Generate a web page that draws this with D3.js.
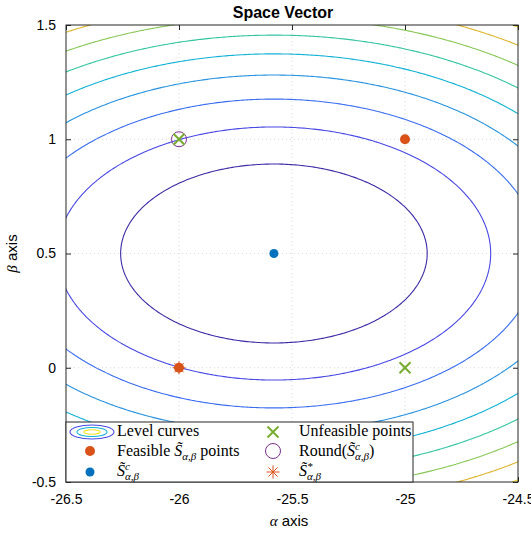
<!DOCTYPE html>
<html>
<head>
<meta charset="utf-8">
<script src="https://cdn.jsdelivr.net/npm/d3@7"></script>
<style>
  body { margin: 0; background: #fff; }
  text { font-family: "Liberation Sans", Arial, sans-serif; }
  .tex { font-family: "Liberation Serif", "Times New Roman", serif; }
</style>
</head>
<body>
<svg id="chart" width="531" height="533"></svg>
<script>
// axis ticks
var alphaTicks = [-26.5, -26, -25.5, -25, -24.5];
var betaTicks = [-0.5, 0, 0.5, 1, 1.5];

// cost surface: w0*(a - ac)^2 + w1*(b - bc)^2, levels
var centerPoint = [-25.58, 0.5];
var costWeights = [1, 3];
var levels = [0.46, 0.92, 1.37, 1.83, 2.29, 2.74, 3.2, 3.66, 4.11];
var levelColors = ["#3b2ba6", "#4848e6", "#3a6ef0", "#2893e0", "#12b2d6", "#33c5a2", "#88c857", "#e0b52f", "#f5dc22"];

// points
var feasibleAlpha = [-25, -26],
    feasibleBeta = [1, 0];
var unfeasibleAlpha = [-26, -25],
    unfeasibleBeta = [1, 0];
var roundPoint = [-26, 1];
var starPoint = [-26, 0];

var orange = "#d95319", blue = "#0072bd", green = "#77ac30", purple = "#7e2f8e";

var svg = d3.select("#chart");
var margin = {top: 25, right: 13, bottom: 51, left: 66},
    width = +svg.attr("width") - margin.left - margin.right,
    height = +svg.attr("height") - margin.top - margin.bottom;

var g = svg.append("g")
    .attr("transform", "translate(" + margin.left + "," + margin.top + ")");

var x = d3.scaleLinear().domain([-26.5, -24.5]).range([0, width]);
var y = d3.scaleLinear().domain([-0.5, 1.5]).range([height, 0]);

g.append("clipPath").attr("id", "clip")
  .append("rect").attr("width", width).attr("height", height);

// dotted grid
var grid = g.append("g").attr("stroke", "#d6d6d6").attr("stroke-dasharray", "1,3").attr("stroke-width", 1);
grid.selectAll("line.gx").data(alphaTicks.slice(1, -1)).enter().append("line")
    .attr("x1", function(d) { return x(d); }).attr("x2", function(d) { return x(d); })
    .attr("y1", 0).attr("y2", height);
grid.selectAll("line.gy").data(betaTicks.slice(1, -1)).enter().append("line")
    .attr("y1", function(d) { return y(d); }).attr("y2", function(d) { return y(d); })
    .attr("x1", 0).attr("x2", width);

// level curves
var nx = 260, ny = 260;
var gxs = d3.scaleLinear().domain([0, nx - 1]).range([-26.7, -24.3]);
var gys = d3.scaleLinear().domain([0, ny - 1]).range([1.7, -0.7]);
var values = new Array(nx * ny);
for (var j = 0; j < ny; j++) {
  for (var i = 0; i < nx; i++) {
    var da = gxs(i) - centerPoint[0], db = gys(j) - centerPoint[1];
    values[j * nx + i] = costWeights[0] * da * da + costWeights[1] * db * db;
  }
}
var contours = d3.contours().size([nx, ny]).thresholds(levels)(values);
var proj = d3.geoTransform({
  point: function(px, py) { this.stream.point(x(gxs(px - 0.5)), y(gys(py - 0.5))); }
});
var path = d3.geoPath(proj);

g.append("g").attr("clip-path", "url(#clip)")
  .selectAll("path").data(contours).enter().append("path")
    .attr("d", path)
    .attr("fill", "none")
    .attr("stroke", function(d, i) { return levelColors[i]; })
    .attr("stroke-width", 1.1);

// axes, ticks inside
var fmt = function(d) { return String(d); };
var axisColor = "#262626";
function styleAxis(sel) {
  sel.select(".domain").remove();
  sel.selectAll("line").attr("stroke", axisColor);
  sel.selectAll("text").attr("fill", "#000").style("font-size", "14px")
     .style("font-family", '"Liberation Sans", Arial, sans-serif');
}
g.append("g").attr("transform", "translate(0," + height + ")")
  .call(d3.axisBottom(x).tickValues(alphaTicks).tickFormat(fmt).tickSizeInner(-5).tickSizeOuter(0).tickPadding(12))
  .call(styleAxis);
g.append("g")
  .call(d3.axisTop(x).tickValues(alphaTicks).tickFormat("").tickSizeInner(-5).tickSizeOuter(0))
  .call(styleAxis);
g.append("g")
  .call(d3.axisLeft(y).tickValues(betaTicks).tickFormat(fmt).tickSizeInner(-5).tickSizeOuter(0).tickPadding(10))
  .call(styleAxis);
g.append("g").attr("transform", "translate(" + width + ",0)")
  .call(d3.axisRight(y).tickValues(betaTicks).tickFormat("").tickSizeInner(-5).tickSizeOuter(0))
  .call(styleAxis);
g.append("rect").attr("width", width).attr("height", height)
  .attr("fill", "none").attr("stroke", axisColor).attr("stroke-width", 1);

// markers
function cross(sel, r) {
  sel.append("path").attr("d", "M" + (-r) + "," + (-r) + "L" + r + "," + r + "M" + (-r) + "," + r + "L" + r + "," + (-r))
    .attr("stroke", green).attr("stroke-width", 2).attr("fill", "none");
}
function star(sel, r) {
  var d = "", k = r * Math.SQRT1_2;
  d += "M" + (-r) + ",0L" + r + ",0M0," + (-r) + "L0," + r;
  d += "M" + (-k) + "," + (-k) + "L" + k + "," + k + "M" + (-k) + "," + k + "L" + k + "," + (-k);
  sel.append("path").attr("d", d).attr("stroke", orange).attr("stroke-width", 1).attr("fill", "none");
}

var pts = g.append("g");
pts.selectAll("circle.feas").data(feasibleAlpha).enter().append("circle")
    .attr("cx", function(d) { return x(d); })
    .attr("cy", function(d, i) { return y(feasibleBeta[i]); })
    .attr("r", 5).attr("fill", orange);
pts.append("circle").attr("cx", x(centerPoint[0])).attr("cy", y(centerPoint[1]))
    .attr("r", 4.5).attr("fill", blue);
pts.append("circle").attr("cx", x(roundPoint[0])).attr("cy", y(roundPoint[1]))
    .attr("r", 7.5).attr("fill", "none").attr("stroke", purple).attr("stroke-width", 1);
unfeasibleAlpha.forEach(function(a, i) {
  pts.append("g").attr("transform", "translate(" + x(a) + "," + y(unfeasibleBeta[i]) + ")").call(cross, 5.5);
});
pts.append("g").attr("transform", "translate(" + x(starPoint[0]) + "," + y(starPoint[1]) + ")").call(star, 6.5);

// title and axis labels
svg.append("text").attr("x", 283).attr("y", 18).attr("text-anchor", "middle")
  .style("font-size", "16px").style("font-weight", "bold").text("Space Vector");

var xl = svg.append("text").attr("x", margin.left + width / 2 - 3).attr("y", 526).attr("text-anchor", "middle")
  .style("font-size", "15px");
xl.append("tspan").attr("class", "tex").style("font-style", "italic").text("\u03b1");
xl.append("tspan").text(" axis");

var yl = svg.append("text").attr("transform", "translate(17," + (margin.top + height / 2) + ") rotate(-90)")
  .attr("text-anchor", "middle").style("font-size", "15px");
yl.append("tspan").attr("class", "tex").style("font-style", "italic").text("\u03b2");
yl.append("tspan").text(" axis");

// legend
var leg = svg.append("g");
leg.append("rect").attr("x", 66).attr("y", 422).attr("width", 347).attr("height", 60)
  .attr("fill", "#fff").attr("stroke", axisColor).attr("stroke-width", 1);

// tex-like label: parts are [text, kind], kind in r, i, sup, sub, subsup
function texLabel(px, py, parts) {
  var t = leg.append("text").attr("class", "tex").attr("x", px).attr("y", py).style("font-size", "16px");
  var shift = 0, lastSup = null;
  parts.forEach(function(p) {
    var s = t.append("tspan").text(p[0]);
    var target = 0;
    if (p[1] === "i") s.style("font-style", "italic");
    if (p[1] === "sup") { s.style("font-style", "italic").style("font-size", "11px"); target = -6; }
    if (p[1] === "sub" || p[1] === "subsup") { s.style("font-style", "italic").style("font-size", "11px"); target = 4; }
    if (p[1] === "subsup" && lastSup) s.attr("dx", -lastSup.node().getComputedTextLength());
    if (target !== shift) s.attr("dy", target - shift);
    shift = target;
    lastSup = p[1] === "sup" ? s : null;
  });
  return t;
}

var e1 = leg.append("g").attr("transform", "translate(92,432)");
e1.append("ellipse").attr("rx", 22).attr("ry", 7).attr("fill", "none").attr("stroke", levelColors[1]).attr("stroke-width", 1.1);
e1.append("ellipse").attr("rx", 15).attr("ry", 4.5).attr("fill", "none").attr("stroke", levelColors[4]).attr("stroke-width", 1.1);
e1.append("ellipse").attr("rx", 8).attr("ry", 2.2).attr("fill", "none").attr("stroke", "#f2e21a").attr("stroke-width", 1.1);
texLabel(117, 436, [["Level curves", "r"]]);

leg.append("circle").attr("cx", 90).attr("cy", 451).attr("r", 5).attr("fill", orange);
texLabel(117, 456, [["Feasible ", "r"], ["S\u0303", "i"], ["\u03b1,\u03b2", "sub"], [" points", "r"]]);

leg.append("circle").attr("cx", 90).attr("cy", 472).attr("r", 4.5).attr("fill", blue);
texLabel(117, 476, [["S\u0303", "i"], ["c", "sup"], ["\u03b1,\u03b2", "subsup"]]);

leg.append("g").attr("transform", "translate(273,432)").call(cross, 5.5);
texLabel(299, 436, [["Unfeasible points", "r"]]);

leg.append("circle").attr("cx", 273).attr("cy", 451).attr("r", 7.5).attr("fill", "none").attr("stroke", purple);
texLabel(299, 456, [["Round(", "r"], ["S\u0303", "i"], ["c", "sup"], ["\u03b1,\u03b2", "subsup"], [")", "r"]]);

leg.append("g").attr("transform", "translate(273,472)").call(star, 6.5);
texLabel(299, 476, [["S\u0303", "i"], ["*", "sup"], ["\u03b1,\u03b2", "subsup"]]);
</script>
</body>
</html>
